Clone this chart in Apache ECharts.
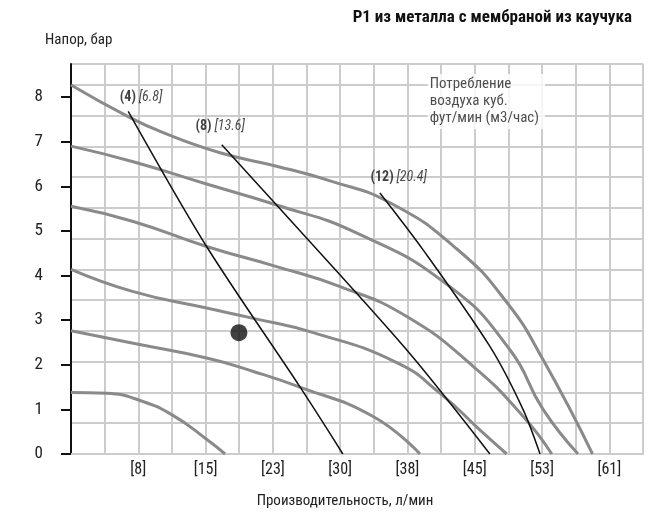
<!DOCTYPE html>
<html><head><meta charset="utf-8">
<script src="https://cdn.jsdelivr.net/npm/echarts@6/dist/echarts.min.js"></script>
<style>html,body{margin:0;padding:0;background:#fff}#c{width:659px;height:516px}</style>
</head><body><div id="c"></div>
<script>
// x in US gpm (grid), labels in l/min; y in bar
const xTickLabels = {2:'[8]',4:'[15]',6:'[23]',8:'[30]',10:'[38]',12:'[45]',14:'[53]',16:'[61]'};
const curve1 = [[0,8.27],[1.7,7.56],[2.74,7.2],[4.43,6.75],[6.11,6.45],[7.7,6.12],[9.48,5.63],[11.46,4.6],[12.95,3.4],[14.04,2.1],[15.5,0]];
const curve2 = [[0,6.9],[1.85,6.55],[4.03,6.05],[6.11,5.58],[8.5,4.95],[11.26,3.75],[13.05,2.33],[14.03,1.0],[15.07,0]];
const curve3 = [[0,5.55],[1.85,5.21],[4.03,4.65],[6.11,4.2],[8.0,3.75],[9.98,3.08],[11.96,1.96],[13.44,0.84],[14.29,0]];
const curve4 = [[0,4.14],[1.85,3.64],[4.03,3.27],[5.42,3.04],[7.2,2.72],[9.68,2.05],[10.97,1.36],[12.15,0.54],[12.95,0]];
const curve5 = [[0,2.76],[1.85,2.48],[4.03,2.15],[5.42,1.85],[6.8,1.5],[8.98,0.84],[10.37,0]];
const curve6 = [[0,1.38],[1.06,1.36],[2.05,1.2],[3.04,0.86],[4.03,0.33],[4.58,0]];
const air4 = [[1.7,7.68],[4.03,4.65],[6.8,1.51],[8.08,0]];
const air8 = [[4.48,6.93],[6.11,5.58],[9.98,2.33],[12.45,0]];
const air12 = [[9.18,5.85],[10.47,4.57],[12.45,2.41],[13.44,0.99],[13.94,0]];
const point = [[4.99,2.72]];
const airLabels = [
  {pos:[1.45,8.0], b:'(4)', i:'[6.8]'},
  {pos:[3.7,7.35], b:'(8)', i:'[13.6]'},
  {pos:[8.9,6.2], b:'(12)', i:'[20.4]'}
];
const F = "'Liberation Sans Narrow','Roboto Condensed','Liberation Sans',sans-serif";
const gray = s => ({type:'line', data:s, smooth:0.5, symbol:'none', lineStyle:{color:'#8a8a8a', width:3}, z:3});
const blk = s => ({type:'line', data:s, smooth:0.3, symbol:'none', lineStyle:{color:'#111', width:1.5}, z:4});
const chart = echarts.init(document.getElementById('c'));
chart.setOption({
  animation:false,
  textStyle:{fontFamily:F},
  title:[
    {text:'P1 из металла с мембраной из каучука', right:22, top:4, textStyle:{fontFamily:F, fontSize:17, fontWeight:'bold', color:'#111'}},
    {text:'Напор, бар', left:40, top:28, textStyle:{fontFamily:F, fontSize:15, fontWeight:'normal', color:'#222'}},
    {text:'Производительность, л/мин', left:340, top:489, textAlign:'center', textStyle:{fontFamily:F, fontSize:15, fontWeight:'normal', color:'#222'}}
  ],
  grid:{left:71, right:16, top:64, bottom:62},
  xAxis:[
    {type:'value', min:0, max:17, interval:1,
     axisLine:{show:true, lineStyle:{color:'#ccc', width:2}}, axisTick:{show:false},
     splitLine:{show:true, lineStyle:{color:'#ccc', width:2}},
     axisLabel:{formatter:v=>xTickLabels[v]||'', fontSize:16, color:'#222', margin:8, fontFamily:F}},
    {type:'value', position:'top', min:0, max:17, interval:1,
     axisLine:{show:true, lineStyle:{color:'#ccc', width:2}}, axisTick:{show:false}, axisLabel:{show:false}, splitLine:{show:false}}
  ],
  yAxis:[
    {type:'value', min:0, max:8.74, interval:1, offset:22,
     axisLine:{show:true, lineStyle:{color:'#111', width:2}},
     axisTick:{show:true, length:10, lineStyle:{color:'#111', width:2}},
     axisLabel:{fontSize:17, color:'#222', margin:6, showMaxLabel:false, fontFamily:F},
     splitLine:{show:false}},
    {type:'value', min:0, max:126.8, interval:10, position:'left',
     axisLine:{show:false}, axisTick:{show:false}, axisLabel:{show:false},
     splitLine:{show:true, lineStyle:{color:'#ccc', width:2}}}
  ],
  series:[
    gray(curve1), gray(curve2), gray(curve3), gray(curve4), gray(curve5), gray(curve6),
    blk(air4), blk(air8), blk(air12),
    {type:'scatter', data:point, symbolSize:17, itemStyle:{color:'#111'}, z:5},
    {type:'scatter', data:airLabels.map(a=>({value:a.pos, b:a.b, i:a.i})), symbolSize:0, z:6,
     label:{show:true, position:'right', distance:0, formatter:p=>'{b|'+p.data.b+'} {i|'+p.data.i+'}',
       rich:{b:{fontFamily:F, fontWeight:'bold', fontSize:14, color:'#111'}, i:{fontFamily:F, fontStyle:'italic', fontSize:14, color:'#222'}}}},
    {type:'scatter', data:[[10.6,7.9]], symbolSize:0, z:6,
     label:{show:true, position:'right', distance:0, formatter:'Потребление\nвоздуха куб.\nфут/мин (м3/час)',
       fontFamily:F, fontSize:15, color:'#222', lineHeight:17, backgroundColor:'#fff', padding:[2,6,2,2], align:'left'}}
  ]
});
</script></body></html>
